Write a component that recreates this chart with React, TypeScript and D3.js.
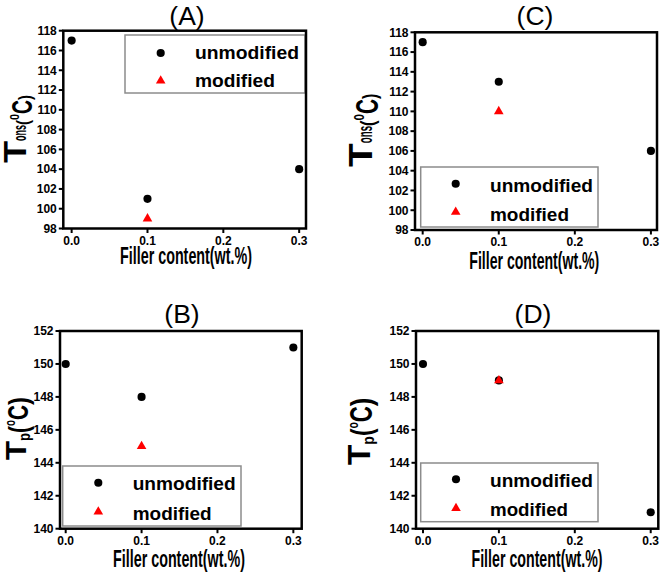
import React from "react";
import * as d3 from "d3";

// ---------- data ----------
const X_VALUES = [0, 0.1, 0.3];
const MOD_X = [0.1];
const X_TICKS = [0, 0.1, 0.2, 0.3];
const TONS_TICKS = [98, 100, 102, 104, 106, 108, 110, 112, 114, 116, 118];
const TP_TICKS = [140, 142, 144, 146, 148, 150, 152];

const A_UNMOD = [117, 101, 104];
const A_MOD = [99];
const B_UNMOD = [150, 148, 151];
const B_MOD = [145];
const C_UNMOD = [117, 113, 106];
const C_MOD = [110];
const D_UNMOD = [150, 149, 141];
const D_MOD = [149];

const TITLES = ["(A)", "(B)", "(C)", "(D)"];
const LEGEND_LABELS = ["unmodified", "modified"];
const X_LABEL = "Filler content(wt.%)";

// label pieces: [text, localX, width, fontSize, baselineOffset]
const TONS_LABEL: [string, number, number, number, number][] = [
  ["T", 0, 22, 31, 0],
  ["ons", 22, 16, 19, 0],
  ["(", 38, 5, 19, 3],
  ["0", 43, 6, 13, -7],
  ["C", 49, 14, 29, 6],
  [")", 63, 5, 19, 5],
];
const TP_LABEL: [string, number, number, number, number][] = [
  ["T", 0, 19, 29, 0],
  ["p", 19, 8, 16, 4],
  ["(", 27, 7, 27, 2],
  ["o", 34, 6, 14, -11],
  ["C", 40, 15, 29, 2],
  [")", 55, 8, 27, 2],
];

const FONT = "'Liberation Sans', Arial, Helvetica, sans-serif";

// ---------- layout ----------
const PANELS = [
  {
    title: TITLES[0], unmod: A_UNMOD, mod: A_MOD, yTicks: TONS_TICKS, yDomain: [98, 118], yLabel: TONS_LABEL,
    left: 63.3, right: 306, top: 30.7, bottom: 228.5, xDomain: [-0.011, 0.309],
    titleX: 187, titleY: 24.5, xlabX: 186, xlabY: 264, xlabW: 132,
    ylab: { x: 26, y: 163, s: 1.0 },
    legend: { x: 125, y: 35, w: 180, h: 58, mx: 160.7, m1: 53, m2: 80.7, tx: 195, b1: 59, b2: 86.7, w1: 104, w2: 80 },
  },
  {
    title: TITLES[1], unmod: B_UNMOD, mod: B_MOD, yTicks: TP_TICKS, yDomain: [140, 152], yLabel: TP_LABEL,
    left: 60, right: 301.7, top: 331, bottom: 528.7, xDomain: [-0.0075, 0.311],
    titleX: 182, titleY: 322.5, xlabX: 179, xlabY: 567, xlabW: 132,
    ylab: { x: 26, y: 460, s: 1.0 },
    legend: { x: 62.7, y: 466, w: 178.3, h: 60, mx: 98.3, m1: 482.7, m2: 511.7, tx: 132.7, b1: 490, b2: 520, w1: 103, w2: 79 },
  },
  {
    title: TITLES[2], unmod: C_UNMOD, mod: C_MOD, yTicks: TONS_TICKS, yDomain: [98, 118], yLabel: TONS_LABEL,
    left: 415, right: 657, top: 32.3, bottom: 230, xDomain: [-0.0101, 0.308],
    titleX: 535, titleY: 24.5, xlabX: 534.3, xlabY: 269, xlabW: 130,
    ylab: { x: 372, y: 167, s: 1.08 },
    legend: { x: 420.7, y: 167, w: 177.3, h: 60, mx: 455.7, m1: 183.7, m2: 212, tx: 490, b1: 191.7, b2: 220.7, w1: 103, w2: 79 },
  },
  {
    title: TITLES[3], unmod: D_UNMOD, mod: D_MOD, yTicks: TP_TICKS, yDomain: [140, 152], yLabel: TP_LABEL,
    left: 416, right: 658.3, top: 331, bottom: 528.7, xDomain: [-0.0092, 0.31],
    titleX: 533, titleY: 322.5, xlabX: 537, xlabY: 567, xlabW: 131,
    ylab: { x: 370, y: 465, s: 1.07 },
    legend: { x: 420.7, y: 463, w: 177.3, h: 58.7, mx: 456, m1: 479.3, m2: 508.3, tx: 490, b1: 487.3, b2: 516, w1: 103, w2: 78 },
  },
];

const circlePath = d3.symbol().type(d3.symbolCircle).size(52)() as string;
const triPath = d3.symbol().type(d3.symbolTriangle).size(40)() as string;

function Panel({ p }: { p: (typeof PANELS)[number] }) {
  const x = d3.scaleLinear().domain(p.xDomain).range([p.left, p.right]);
  const y = d3.scaleLinear().domain(p.yDomain).range([p.bottom, p.top]);
  const L = p.legend;
  return (
    <g>
      {/* title */}
      <text x={p.titleX} y={p.titleY} textAnchor="middle" fontSize={26.5} fontFamily={FONT} fill="#000">
        {p.title}
      </text>
      {/* y ticks */}
      {p.yTicks.map((t) => (
        <g key={"y" + t}>
          <line x1={p.left - 4.5} x2={p.left} y1={y(t)} y2={y(t)} stroke="#000" strokeWidth={2} />
          <text x={p.left - 6.5} y={y(t)} dy="0.36em" textAnchor="end" fontSize={12} fontWeight="bold" fontFamily={FONT}>
            {t}
          </text>
        </g>
      ))}
      {/* x ticks */}
      {X_TICKS.map((t) => (
        <g key={"x" + t}>
          <line x1={x(t)} x2={x(t)} y1={p.bottom} y2={p.bottom + 4.5} stroke="#000" strokeWidth={2} />
          <text x={x(t)} y={p.bottom + 16} textAnchor="middle" fontSize={12} fontWeight="bold" fontFamily={FONT}>
            {t.toFixed(1)}
          </text>
        </g>
      ))}
      {/* legend */}
      <rect x={L.x} y={L.y} width={L.w} height={L.h} fill="#fff" stroke="#8c8c8c" strokeWidth={1.5} />
      <path d={circlePath} transform={`translate(${L.mx},${L.m1})`} fill="#000" />
      <path d={triPath} transform={`translate(${L.mx},${L.m2})`} fill="#ff0000" />
      <text x={L.tx} y={L.b1} fontSize={18} fontWeight="bold" fontFamily={FONT} textLength={L.w1} lengthAdjust="spacingAndGlyphs">
        {LEGEND_LABELS[0]}
      </text>
      <text x={L.tx} y={L.b2} fontSize={18} fontWeight="bold" fontFamily={FONT} textLength={L.w2} lengthAdjust="spacingAndGlyphs">
        {LEGEND_LABELS[1]}
      </text>
      {/* frame */}
      <rect x={p.left} y={p.top} width={p.right - p.left} height={p.bottom - p.top} fill="none" stroke="#000" strokeWidth={2.5} />
      {/* data */}
      {p.unmod.map((v, i) => (
        <path key={"u" + i} d={circlePath} transform={`translate(${x(X_VALUES[i])},${y(v)})`} fill="#000" />
      ))}
      {p.mod.map((v, i) => (
        <path key={"m" + i} d={triPath} transform={`translate(${x(MOD_X[i])},${y(v)})`} fill="#ff0000" />
      ))}
      {/* x label */}
      <text x={p.xlabX} y={p.xlabY} textAnchor="middle" fontSize={23} fontWeight="bold" fontFamily={FONT} textLength={p.xlabW} lengthAdjust="spacingAndGlyphs">
        {X_LABEL}
      </text>
      {/* y label */}
      <g transform={`translate(${p.ylab.x},${p.ylab.y}) rotate(-90) scale(${p.ylab.s})`}>
        {p.yLabel.map(([s, lx, w, fs, by], i) => (
          <text key={i} x={lx} y={by} fontSize={fs} fontWeight="bold" fontFamily={FONT} textLength={w} lengthAdjust="spacingAndGlyphs">
            {s}
          </text>
        ))}
      </g>
    </g>
  );
}

export default function App() {
  return (
    <svg width={661} height={573} style={{ position: "absolute", left: 0, top: 0, background: "#fff" }}>
      <rect width={661} height={573} fill="#fff" />
      {PANELS.map((p, i) => (
        <Panel key={i} p={p} />
      ))}
    </svg>
  );
}
